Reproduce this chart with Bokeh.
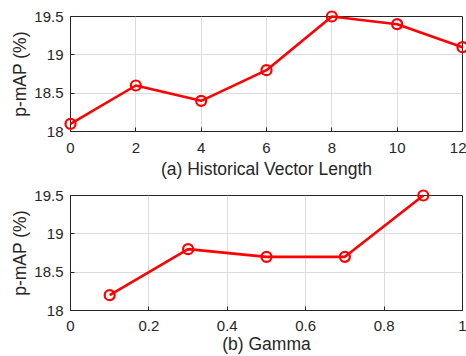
from bokeh.plotting import figure
from bokeh.layouts import column
from bokeh.models import Range1d, FixedTicker
from bokeh.embed import file_html
from bokeh.resources import INLINE

# Data
hist_len = [0, 2, 4, 6, 8, 10, 12]
hist_map = [18.1, 18.6, 18.4, 18.8, 19.5, 19.4, 19.1]
gamma = [0.1, 0.3, 0.5, 0.7, 0.9]
gamma_map = [18.2, 18.8, 18.7, 18.7, 19.5]

x1_ticks = [0, 2, 4, 6, 8, 10, 12]
x2_ticks = [0, 0.2, 0.4, 0.6, 0.8, 1.0]
x2_labels = ["0", "0.2", "0.4", "0.6", "0.8", "1"]
y_ticks = [18, 18.5, 19, 19.5]
y_labels = ["18", "18.5", "19", "19.5"]

FONT = "Liberation Sans"
DARK = "#262626"
RED = "#ff0000"


def make_fig(h, top, bottom, xr, xt, xl, xlabel, xs, ys, tick_so, lab_so):
    p = figure(width=466, height=h, output_backend="svg", toolbar_location=None,
               x_range=Range1d(*xr), y_range=Range1d(18, 19.5),
               min_border_left=70, min_border_right=4,
               min_border_top=top, min_border_bottom=bottom)
    p.background_fill_color = "white"
    p.border_fill_color = "white"
    p.outline_line_color = DARK
    p.outline_line_width = 1
    p.line(xs, ys, line_color=RED, line_width=2.6, level="overlay")
    p.scatter(xs, ys, marker="circle", size=10, fill_color=None,
              line_color=RED, line_width=2.2, level="overlay")
    p.xaxis.ticker = FixedTicker(ticks=xt)
    p.xaxis.major_label_overrides = {t: l for t, l in zip(xt, xl)}
    p.yaxis.ticker = FixedTicker(ticks=y_ticks)
    p.yaxis.major_label_overrides = {t: l for t, l in zip(y_ticks, y_labels)}
    p.xaxis.axis_label = xlabel
    p.yaxis.axis_label = "p-mAP (%)"
    for ax in (p.xaxis, p.yaxis):
        ax.axis_line_color = DARK
        ax.major_tick_line_color = DARK
        ax.major_tick_in = 4
        ax.major_tick_out = 0
        ax.minor_tick_line_color = None
        ax.major_label_text_font = FONT
        ax.major_label_text_font_size = "15px"
        ax.major_label_text_color = DARK
        ax.axis_label_text_font = FONT
        ax.axis_label_text_font_size = "17.5px"
        ax.axis_label_text_font_style = "normal"
        ax.axis_label_text_color = DARK
    p.xaxis.major_label_standoff = tick_so
    p.xaxis.axis_label_standoff = lab_so
    p.yaxis.major_label_standoff = 7
    p.yaxis.axis_label_standoff = 1
    p.xgrid.ticker = FixedTicker(ticks=xt)
    p.ygrid.ticker = FixedTicker(ticks=y_ticks)
    p.grid.grid_line_color = "#dcdcdc"
    p.grid.grid_line_width = 1
    return p


p1 = make_fig(187, 16, 56, (0, 12), x1_ticks, [str(t) for t in x1_ticks],
              "(a) Historical Vector Length", hist_len, hist_map, 11, 3)
p2 = make_fig(169, 8, 46, (0, 1), x2_ticks, x2_labels,
              "(b) Gamma", gamma, gamma_map, 10, 0)

layout = column(p1, p2, spacing=0)
open("out.html", "w").write(file_html(layout, INLINE))
